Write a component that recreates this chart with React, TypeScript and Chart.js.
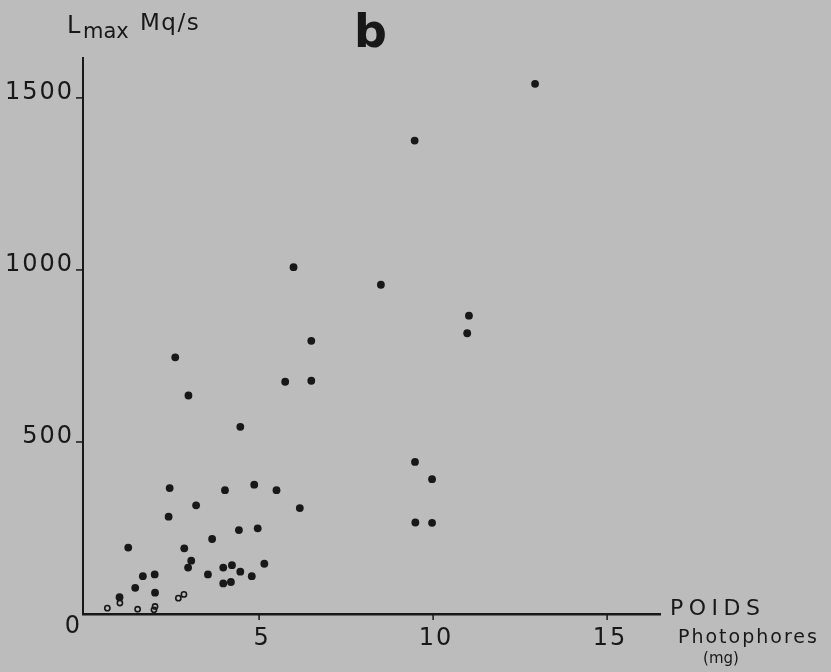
import React, { useEffect, useRef } from "react";
import { Chart, registerables } from "chart.js";

Chart.register(...registerables);

// Poids des photophores (mg) vs L max (Mq/s)
const filledX = [12.93, 9.47, 5.99, 8.5, 11.03, 10.98, 6.5, 5.75, 6.5, 9.48, 9.97, 5.5, 6.17, 9.49, 9.97, 2.59, 2.97, 4.46, 2.43, 4.02, 4.86, 3.19, 2.4, 4.42, 4.96, 3.65, 1.24, 2.85, 3.05, 2.96, 3.97, 4.22, 4.46, 4.79, 5.15, 3.53, 3.97, 4.19, 1.66, 2.0, 1.44, 2.01, 0.99];
const filledY = [1541, 1376, 1008, 957, 867, 816, 794, 675, 678, 442, 392, 360, 308, 266, 265, 746, 635, 544, 366, 360, 376, 316, 283, 244, 249, 218, 193, 191, 155, 135, 135, 142, 123, 110, 146, 115, 89, 93, 110, 115, 76, 62, 49];
const hollowX = [1.0, 2.68, 2.84, 0.64, 1.51, 2.01, 1.98];
const hollowY = [32, 46, 57, 17, 14, 22, 12];

const xTicks = [5, 10, 15];
const yTicks = [500, 1000, 1500];
const zeroLabel = "0";

const INK = "#181818";
const PAPER = "#bcbcbc";
const FONT = "'DejaVu Sans', sans-serif";

export default function App() {
  const ref = useRef<HTMLCanvasElement | null>(null);
  useEffect(() => {
    document.body.style.margin = "0";
    document.body.style.background = PAPER;
    const canvas = ref.current!;
    const textPlugin = {
      id: "textPlugin",
      beforeDraw(chart: any) {
        const ctx = chart.ctx;
        ctx.save();
        ctx.fillStyle = PAPER;
        ctx.fillRect(0, 0, chart.width, chart.height);
        ctx.restore();
      },
      afterDraw(chart: any) {
        const ctx = chart.ctx as CanvasRenderingContext2D;
        const xs = chart.scales.x;
        const ys = chart.scales.y;
        const ca = chart.chartArea;
        ctx.save();
        ctx.fillStyle = INK;
        ctx.strokeStyle = INK;
        // y ticks
        ctx.lineWidth = 1.5;
        ctx.font = `24px ${FONT}`;
        (ctx as any).letterSpacing = "2px";
        ctx.textAlign = "right";
        ctx.textBaseline = "alphabetic";
        yTicks.forEach((v) => {
          const py = ys.getPixelForValue(v);
          ctx.beginPath();
          ctx.moveTo(ca.left - 7, py);
          ctx.lineTo(ca.left, py);
          ctx.stroke();
          ctx.fillText(String(v), ca.left - 9, py + 1);
        });
        const p0 = ys.getPixelForValue(0);
        ctx.fillText(zeroLabel, ca.left - 1, p0 + 19);
        // x ticks
        ctx.textAlign = "center";
        xTicks.forEach((v) => {
          const px = xs.getPixelForValue(v);
          ctx.beginPath();
          ctx.moveTo(px, p0);
          ctx.lineTo(px, p0 + 6);
          ctx.stroke();
          ctx.fillText(String(v), px + 3, p0 + 31);
        });
        // y axis title
        ctx.textAlign = "left";
        (ctx as any).letterSpacing = "0px";
        ctx.font = `24px ${FONT}`;
        ctx.fillText("L", ca.left - 16, 33);
        ctx.font = `21px ${FONT}`;
        ctx.fillText("max", ca.left, 38);
        (ctx as any).letterSpacing = "1.5px";
        ctx.font = `23px ${FONT}`;
        ctx.fillText("Mq/s", ca.left + 57, 30);
        // panel letter
        (ctx as any).letterSpacing = "0px";
        ctx.font = `bold 46px ${FONT}`;
        ctx.fillText("b", 354, 47);
        // x axis title
        (ctx as any).letterSpacing = "5.5px";
        ctx.font = `22px ${FONT}`;
        ctx.fillText("POIDS", ca.right + 10, p0 + 1);
        (ctx as any).letterSpacing = "2px";
        ctx.font = `19px ${FONT}`;
        ctx.fillText("Photophores", ca.right + 18, p0 + 29);
        (ctx as any).letterSpacing = "0px";
        ctx.font = `15px ${FONT}`;
        ctx.textAlign = "center";
        ctx.fillText("(mg)", ca.right + 61, p0 + 49);
        ctx.restore();
      },
    };
    const chart = new Chart(canvas, {
      type: "scatter",
      data: {
        datasets: [
          {
            label: "filled",
            data: filledX.map((x, i) => ({ x, y: filledY[i] })),
            backgroundColor: INK,
            borderColor: INK,
            pointRadius: 3.9,
            borderWidth: 0,
          },
          {
            label: "hollow",
            data: hollowX.map((x, i) => ({ x, y: hollowY[i] })),
            backgroundColor: "rgba(0,0,0,0)",
            borderColor: INK,
            pointRadius: 2.6,
            borderWidth: 1.6,
          },
        ],
      },
      options: {
        animation: false,
        responsive: false,
        events: [],
        layout: { autoPadding: false, padding: { left: 83, top: 58, right: 171, bottom: 58 } },
        plugins: { legend: { display: false }, tooltip: { enabled: false } },
        scales: {
          x: {
            type: "linear",
            min: -0.06,
            max: 16.52,
            grid: { display: false, drawTicks: false, tickLength: 0 },
            ticks: { display: false },
            border: { display: true, color: INK, width: 2.5 },
          },
          y: {
            type: "linear",
            min: 0,
            max: 1616,
            grid: { display: false, drawTicks: false, tickLength: 0 },
            ticks: { display: false },
            border: { display: true, color: INK, width: 2 },
          },
        },
        elements: { point: { hitRadius: 0 } },
      } as any,
      plugins: [textPlugin],
    });
    return () => chart.destroy();
  }, []);
  return <canvas ref={ref} width={831} height={672} style={{ display: "block" }} />;
}
